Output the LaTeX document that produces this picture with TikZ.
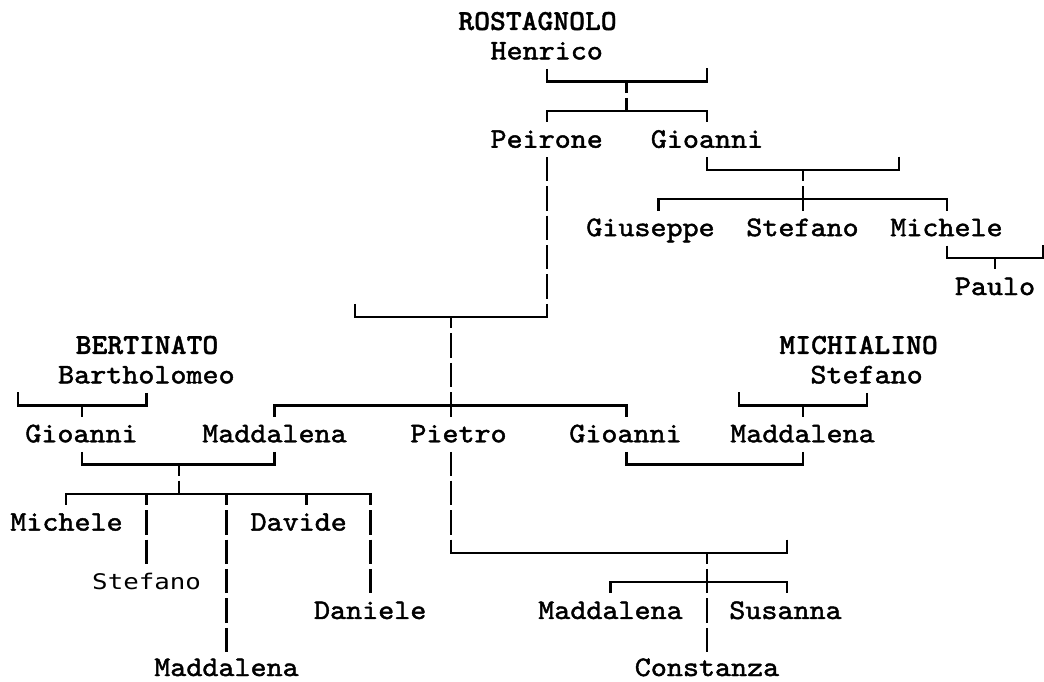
\documentclass[tikz,border=0pt]{standalone}
\usepackage{fontspec}
\newfontfamily\nmfont{lmmono10-regular.otf}[FakeStretch=1.08,FakeBold=1.6]
\newfontfamily\snfont{lmmonolt10-bold.otf}[FakeStretch=1.04,FakeBold=1.2]
\newfontfamily\sffont{DejaVu Sans Mono}[FakeStretch=1.2]
\tikzset{
  nm/.style={font=\nmfont\fontsize{28.3}{30}\selectfont, anchor=base, inner sep=0pt, outer sep=0pt, text height=24pt, text depth=9.5pt},
  sn/.style={nm, font=\snfont\fontsize{29}{30}\selectfont},
  sfn/.style={nm, font=\sffont\fontsize{21.5}{24}\selectfont},
  hbar/.style={line width=2.2pt, line cap=rect},
  vl/.style={line width=2.2pt, dash pattern=on 24.45pt off 5pt},
  vnode/.style={vl, dash phase=0.6pt},
  vbar/.style={vl, dash phase=13.25pt},
  vfree/.style={vl, dash phase=0pt}
}
\begin{document}
\begin{tikzpicture}[x=1pt,y=-1pt]
\useasboundingbox (0,0) rectangle (1044,681);
% names
\node[sn] (ros) at (537.5,29.95) {ROSTAGNOLO};
\node[nm] (hen) at (546.7,59.4) {Henrico};
\node[nm] (pei) at (546.7,147.75) {Peirone};
\node[nm] (gio1) at (707,147.75) {Gioanni};
\node[nm] (gius) at (650.5,236.1) {Giuseppe};
\node[nm] (stef1) at (802.5,236.1) {Stefano};
\node[nm] (mich1) at (946.5,236.1) {Michele};
\node[nm] (paulo) at (995,295) {Paulo};
\node[sn] (bert) at (147,353.9) {BERTINATO};
\node[nm] (barth) at (146.4,383.35) {Bartholomeo};
\node[sn] (michi) at (858.6,353.9) {MICHIALINO};
\node[nm] (stefm) at (866.6,383.35) {Stefano};
\node[nm] (giob) at (81.5,442.25) {Gioanni};
\node[nm] (madb) at (274.5,442.25) {Maddalena};
\node[nm] (pietro) at (458.5,442.25) {Pietro};
\node[nm] (gio2) at (625.5,442.25) {Gioanni};
\node[nm] (madm) at (802.5,442.25) {Maddalena};
\node[nm] (michb) at (66.5,530.6) {Michele};
\node[nm] (davide) at (298.7,530.6) {Davide};
\node[sfn] (stefb) at (146.6,589.5) {Stefano};
\node[nm] (daniele) at (370.2,618.95) {Daniele};
\node[nm] (madb2) at (226.5,676) {Maddalena};
\node[nm] (madp) at (610.5,618.95) {Maddalena};
\node[nm] (susanna) at (785.5,618.95) {Susanna};
\node[nm] (constanza) at (707,676) {Constanza};
% junction coordinates
\coordinate (h3l) at (546.7,81.55); \coordinate (h3r) at (707.3,81.55);
\coordinate (h3m) at (626.5,81.55); \coordinate (h3rt) at (707.3,68.3);
\coordinate (h4l) at (546.7,111); \coordinate (h4r) at (707.3,111);
\coordinate (h4m) at (626.5,111);
\coordinate (h6l) at (706.6,169.9); \coordinate (h6r) at (899,169.9);
\coordinate (h6rt) at (899,156.65); \coordinate (h6m) at (802.6,169.9);
\coordinate (h7l) at (658.5,199.35); \coordinate (h7r) at (947,199.35);
\coordinate (h9l) at (946.7,258.25); \coordinate (h9r) at (1042.7,258.25);
\coordinate (h9rt) at (1042.7,245); \coordinate (h9m) at (994.7,258.25);
\coordinate (h11l) at (355,317.15); \coordinate (h11lt) at (355,303.9);
\coordinate (h11r) at (546.7,317.15); \coordinate (h11m) at (450.6,317.15);
\coordinate (b14l) at (18.3,405.5); \coordinate (b14lt) at (18.3,392.25);
\coordinate (b14r) at (146.4,405.5); \coordinate (b14m) at (82.3,405.5);
\coordinate (s14l) at (274.5,405.5); \coordinate (s14r) at (626.5,405.5);
\coordinate (m14l) at (739.3,405.5); \coordinate (m14lt) at (739.3,392.25);
\coordinate (m14r) at (866.6,405.5); \coordinate (m14m) at (802.6,405.5);
\coordinate (c16l) at (82.3,464.4); \coordinate (c16r) at (274.5,464.4);
\coordinate (c16m) at (179,464.4);
\coordinate (d16l) at (626.5,464.4); \coordinate (d16r) at (802.6,464.4);
\coordinate (t17a) at (66.3,493.85); \coordinate (t17b) at (146.4,493.85);
\coordinate (t17m) at (179,493.85); \coordinate (t17c) at (226.4,493.85);
\coordinate (t17d) at (306.4,493.85); \coordinate (t17e) at (370.4,493.85);
\coordinate (p19l) at (450.6,552.75); \coordinate (p19r) at (787.3,552.75);
\coordinate (p19rt) at (787.3,539.5); \coordinate (p19m) at (706.6,552.75);
\coordinate (p20l) at (610.5,582.2); \coordinate (p20r) at (787.3,582.2);
% horizontal bars
\draw[hbar] (h3l) -- (h3r);
\draw[hbar] (h4l) -- (h4r);
\draw[hbar] (h6l) -- (h6r);
\draw[hbar] (h7l) -- (h7r);
\draw[hbar] (h9l) -- (h9r);
\draw[hbar] (h11l) -- (h11r);
\draw[hbar] (b14l) -- (b14r);
\draw[hbar] (s14l) -- (s14r);
\draw[hbar] (m14l) -- (m14r);
\draw[hbar] (c16l) -- (c16r);
\draw[hbar] (d16l) -- (d16r);
\draw[hbar] (t17a) -- (t17e);
\draw[hbar] (p19l) -- (p19r);
\draw[hbar] (p20l) -- (p20r);
% verticals from names
\draw[vnode] (hen.south -| h3l) -- (h3l);
\draw[vnode] (pei.south -| h11r) -- (h11r);
\draw[vnode] (gio1.south -| h6l) -- (h6l);
\draw[vnode] (mich1.south -| h9l) -- (h9l);
\draw[vnode] (barth.south -| b14r) -- (b14r);
\draw[vnode] (stefm.south -| m14r) -- (m14r);
\draw[vnode] (giob.south -| c16l) -- (c16l);
\draw[vnode] (madb.south -| c16r) -- (c16r);
\draw[vnode] (gio2.south -| d16l) -- (d16l);
\draw[vnode] (madm.south -| d16r) -- (d16r);
\draw[vnode] (pietro.south -| p19l) -- (p19l);
% verticals from bars
\draw[vbar] (h3m) -- (h4m);
\draw[vbar] (h4l) -- (h4l |- pei.north);
\draw[vbar] (h4r) -- (h4r |- gio1.north);
\draw[vbar] (h6m) -- (h6m |- stef1.north);
\draw[vbar] (h7l) -- (h7l |- gius.north);
\draw[vbar] (h7r) -- (h7r |- mich1.north);
\draw[vbar] (h9m) -- (h9m |- paulo.north);
\draw[vbar] (h11m) -- (h11m |- pietro.north);
\draw[vbar] (b14m) -- (b14m |- giob.north);
\draw[vbar] (s14l) -- (s14l |- madb.north);
\draw[vbar] (s14r) -- (s14r |- gio2.north);
\draw[vbar] (m14m) -- (m14m |- madm.north);
\draw[vbar] (c16m) -- (t17m);
\draw[vbar] (t17a) -- (t17a |- michb.north);
\draw[vbar] (t17b) -- (t17b |- stefb.north);
\draw[vbar] (t17c) -- (t17c |- madb2.north);
\draw[vbar] (t17d) -- (t17d |- davide.north);
\draw[vbar] (t17e) -- (t17e |- daniele.north);
\draw[vbar] (p19m) -- (p19m |- constanza.north);
\draw[vbar] (p20l) -- (p20l |- madp.north);
\draw[vbar] (p20r) -- (p20r |- susanna.north);
% free ticks
\draw[vfree] (h3rt) -- (h3r);
\draw[vfree] (h6rt) -- (h6r);
\draw[vfree] (h9rt) -- (h9r);
\draw[vfree] (h11lt) -- (h11l);
\draw[vfree] (b14lt) -- (b14l);
\draw[vfree] (m14lt) -- (m14l);
\draw[vfree] (p19rt) -- (p19r);
\end{tikzpicture}
\end{document}
